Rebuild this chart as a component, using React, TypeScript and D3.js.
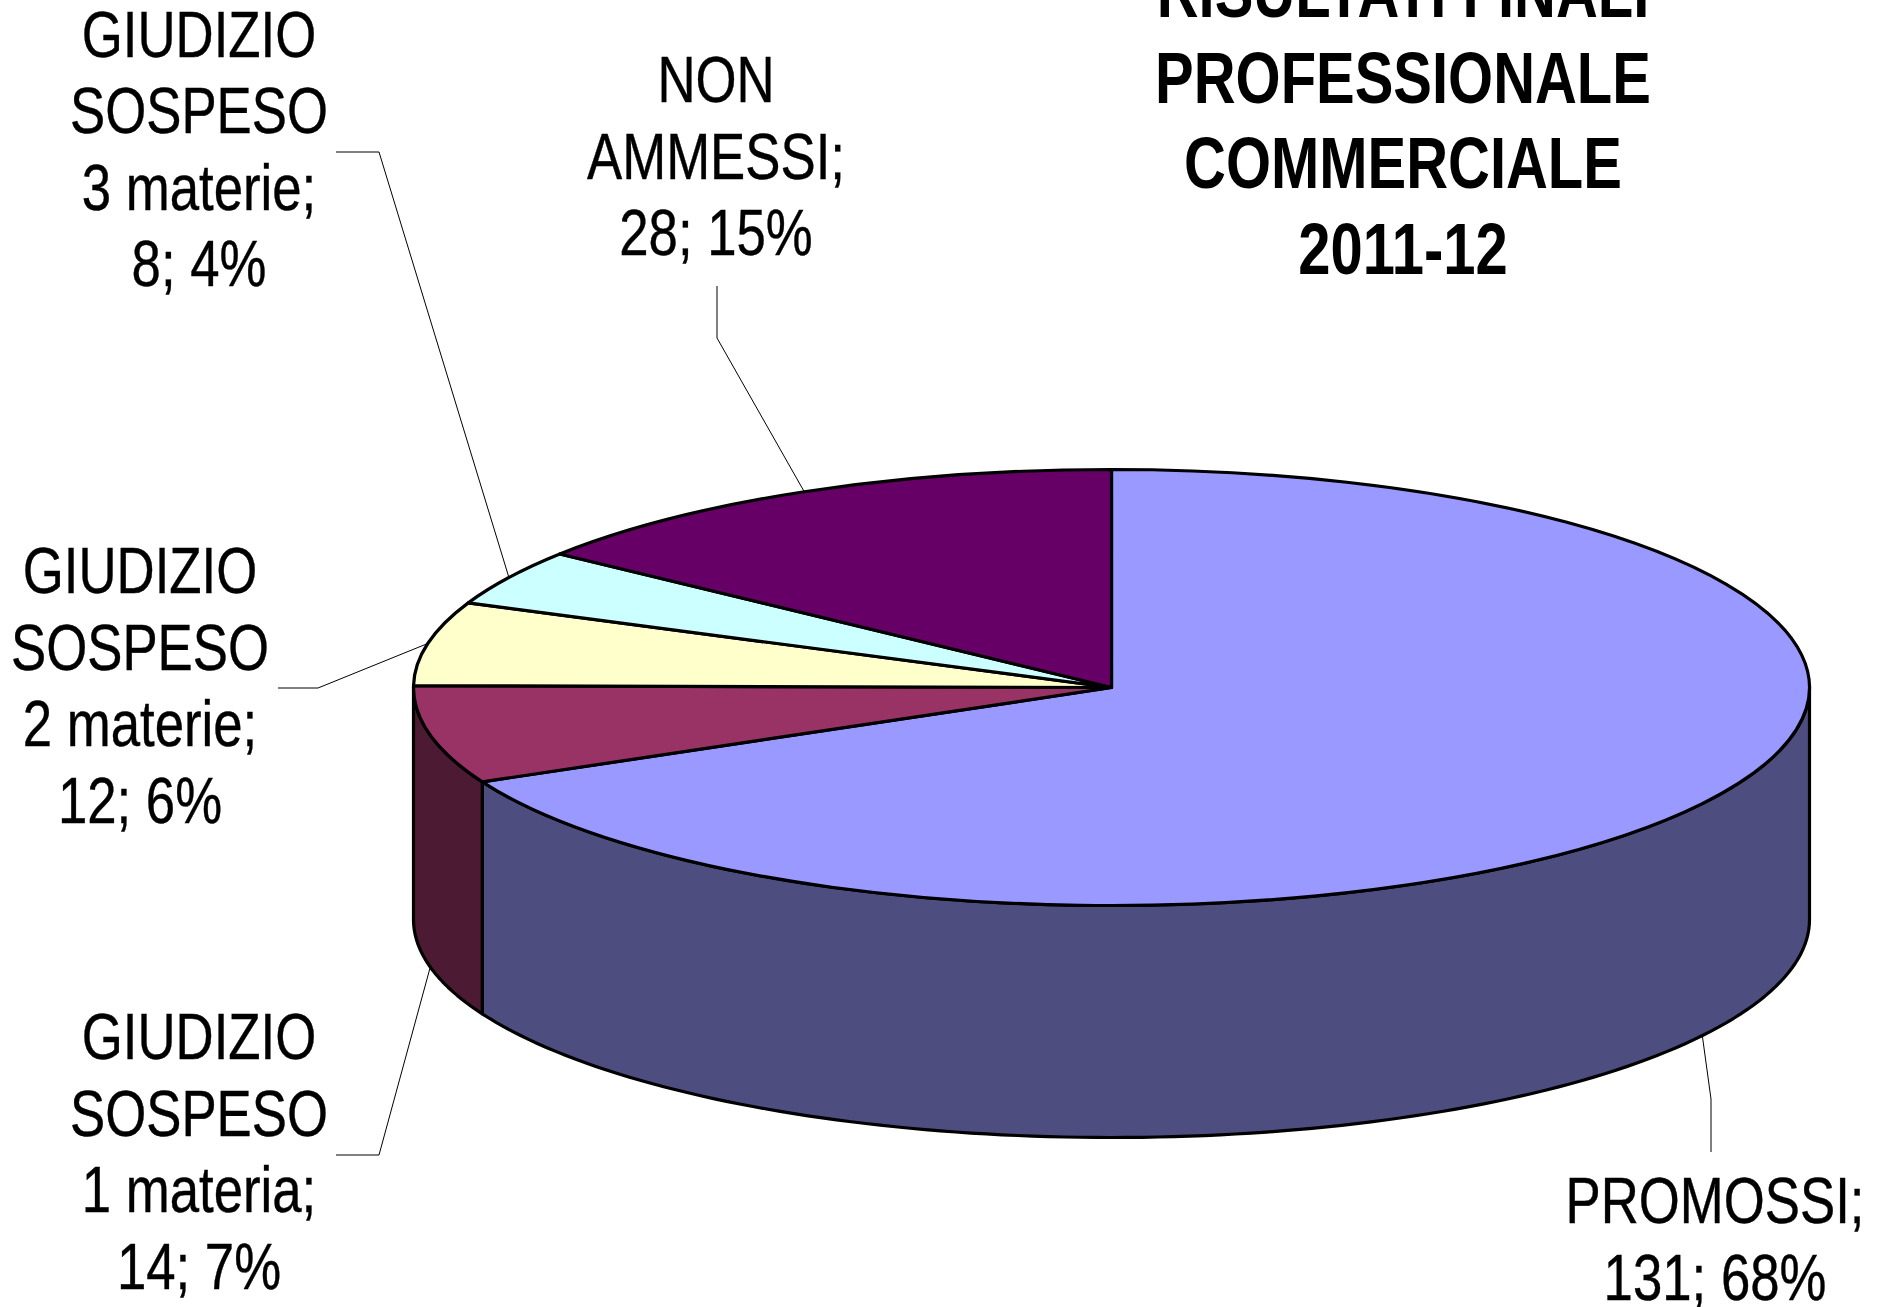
import React from "react";
import * as d3 from "d3";

// data
const categories = ["PROMOSSI", "GIUDIZIO SOSPESO 1 materia", "GIUDIZIO SOSPESO 2 materie", "GIUDIZIO SOSPESO 3 materie", "NON AMMESSI"];
const values = [131, 14, 12, 8, 28];
const topColors = ["#9999FF", "#993366", "#FFFFCC", "#CCFFFF", "#660066"];
const sideColors = ["#4D4D80", "#4D1A33", "#80806A", "#6A8080", "#330033"];
const labelLines = [
  ["PROMOSSI;", "131; 68%"],
  ["GIUDIZIO", "SOSPESO", "1 materia;", "14; 7%"],
  ["GIUDIZIO", "SOSPESO", "2 materie;", "12; 6%"],
  ["GIUDIZIO", "SOSPESO", "3 materie;", "8; 4%"],
  ["NON", "AMMESSI;", "28; 15%"],
];
const titleLines = ["RISULTATI FINALI", "PROFESSIONALE", "COMMERCIALE", "2011-12"];

// layout of labels and leader elbows, same order as categories
const labelX = [1715, 199, 140, 199, 716];
const labelY = [1223, 1059, 593, 56.5, 102];
const leaderStart = [[1711, 1152], [336, 1155], [278, 688], [336, 152], [717, 286]];
const leaderElbow = [[1711, 1099], [379, 1155], [318, 688], [379, 152], [717, 338]];

const width = 1877;
const height = 1307;
const cx = 1111.5;
const cy = 687.5;
const rx = 698;
const ry = 218;
const depth = 232;
const lineGap = 76.5;
const font = "'Liberation Sans', Arial, sans-serif";

const pt = (a: number, dy = 0): [number, number] => [cx + rx * Math.sin(a), cy - ry * Math.cos(a) + dy];

function App() {
  const pie = d3.pie<number>().sort(null).value((d) => d);
  const slices = pie(values);
  const arc = d3.arc<d3.PieArcDatum<number>>().innerRadius(0).outerRadius(rx);
  const line = d3.line();

  // front wall, only the part between 90 and 270 degrees can be seen
  const walls = slices
    .map((s, i) => {
      const a0 = Math.max(s.startAngle, Math.PI / 2);
      const a1 = Math.min(s.endAngle, (3 * Math.PI) / 2);
      if (a1 <= a0) return null;
      const angles = d3.range(0, 121).map((k) => a0 + ((a1 - a0) * k) / 120);
      const pts = [...angles.map((a) => pt(a)), ...angles.slice().reverse().map((a) => pt(a, depth))];
      return { i, d: line(pts) + "Z" };
    })
    .filter(Boolean) as { i: number; d: string }[];

  return (
    <svg
      width={width}
      height={height}
      style={{ position: "absolute", left: 0, top: 0, display: "block", background: "#fff" }}
    >
      {/* Side of the pie */}
      {walls.map((w) => (
        <path key={w.i} d={w.d} fill={sideColors[w.i]} stroke="#000" strokeWidth={3.2} strokeLinejoin="round" />
      ))}

      {/* Top of the pie */}
      <g transform={`translate(${cx},${cy}) scale(1,${ry / rx})`}>
        {slices.map((s, i) => (
          <path
            key={categories[i]}
            d={arc(s) as string}
            fill={topColors[i]}
            stroke="#000"
            strokeWidth={3.2}
            strokeLinejoin="round"
            vectorEffect="non-scaling-stroke"
          />
        ))}
      </g>

      {/* Leader lines */}
      {slices.map((s, i) => {
        const mid = (s.startAngle + s.endAngle) / 2;
        const front = Math.cos(mid) < 0;
        const end = pt(mid, front ? depth : 0);
        return (
          <path
            key={categories[i] + "-leader"}
            d={line([leaderStart[i] as [number, number], leaderElbow[i] as [number, number], end]) as string}
            fill="none"
            stroke="#000"
            strokeWidth={1}
          />
        );
      })}

      {/* Data labels */}
      {labelLines.map((lines, i) =>
        lines.map((t, j) => (
          <text
            key={i + "-" + j}
            transform={`translate(${labelX[i]},${labelY[i] + j * lineGap}) scale(0.818,1)`}
            textAnchor="middle"
            fontFamily={font}
            fontSize={64.5}
            stroke="#000"
            strokeWidth={0.4}
            fill="#000"
          >
            {t}
          </text>
        ))
      )}

      {/* Title */}
      {titleLines.map((t, j) => (
        <text
          key={t}
          transform={`translate(1403,${17 + j * 85.7}) scale(0.805,1)`}
          textAnchor="middle"
          fontFamily={font}
          fontWeight="bold"
          fontSize={72}
          fill="#000"
        >
          {t}
        </text>
      ))}
    </svg>
  );
}

export default App;
